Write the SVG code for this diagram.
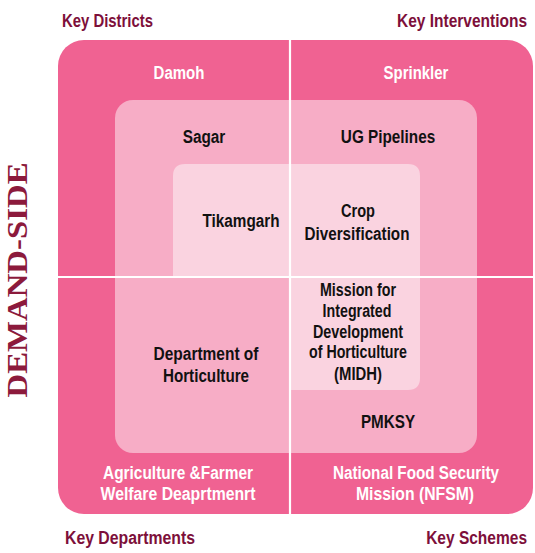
<svg xmlns="http://www.w3.org/2000/svg" width="535" height="553" viewBox="0 0 535 553">
<style>
text{font-family:"Liberation Sans",Arial,sans-serif;font-weight:bold;font-size:19px}
.h{fill:#7d0f3a}
.w{fill:#ffffff;text-anchor:middle}
.b{fill:#111111;text-anchor:middle}
.side{font-family:"Liberation Serif","Times New Roman",serif;font-size:29px;fill:#8c1a3c}
</style>
<g id="outer"><rect x="58" y="40" width="475" height="474" rx="26" fill="#f06292"/></g>
<g id="middle"><rect x="115" y="100" width="362" height="353" rx="18" fill="#f7adc6"/></g>
<g id="inner"><path d="M173 277 V176 Q173 164 185 164 H408 Q420 164 420 176 V378 Q420 390 408 390 H290 V277 Z" fill="#fad3e0"/></g>
<g id="connectors">
<line x1="290" y1="40" x2="290" y2="514" stroke="#ffffff" stroke-width="2.2"/>
<line x1="58" y1="277" x2="533" y2="277" stroke="#ffffff" stroke-width="2.2"/>
</g>
<g id="labels">
<text class="h" transform="translate(62,27) scale(0.82,1)" textLength="111" lengthAdjust="spacingAndGlyphs">Key Districts</text>
<text class="h" transform="translate(527,27) scale(0.82,1)" text-anchor="end" textLength="158.5" lengthAdjust="spacingAndGlyphs">Key Interventions</text>
<text class="h" transform="translate(65,544) scale(0.82,1)" textLength="158.5" lengthAdjust="spacingAndGlyphs">Key Departments</text>
<text class="h" transform="translate(527,544) scale(0.82,1)" text-anchor="end" textLength="123" lengthAdjust="spacingAndGlyphs">Key Schemes</text>
<text class="side" transform="translate(27,280) rotate(-90)" text-anchor="middle" textLength="235" lengthAdjust="spacingAndGlyphs">DEMAND-SIDE</text>
</g>
<g id="n-damoh"><text class="w" transform="translate(179,79) scale(0.82,1)" textLength="62" lengthAdjust="spacingAndGlyphs">Damoh</text></g>
<g id="n-sprinkler"><text class="w" transform="translate(416,79) scale(0.82,1)" textLength="79" lengthAdjust="spacingAndGlyphs">Sprinkler</text></g>
<g id="n-sagar"><text class="b" transform="translate(204,143) scale(0.82,1)" textLength="52" lengthAdjust="spacingAndGlyphs">Sagar</text></g>
<g id="n-ug"><text class="b" transform="translate(388,143) scale(0.82,1)" textLength="115" lengthAdjust="spacingAndGlyphs">UG Pipelines</text></g>
<g id="n-tikamgarh"><text class="b" transform="translate(241,227) scale(0.82,1)" textLength="94" lengthAdjust="spacingAndGlyphs">Tikamgarh</text></g>
<g id="n-crop">
<text class="b" transform="translate(358,217) scale(0.82,1)" textLength="41.5" lengthAdjust="spacingAndGlyphs">Crop</text>
<text class="b" transform="translate(357,240) scale(0.82,1)" textLength="128" lengthAdjust="spacingAndGlyphs">Diversification</text>
</g>
<g id="n-midh">
<text class="b" transform="translate(358,296) scale(0.82,1)" textLength="92.7" lengthAdjust="spacingAndGlyphs">Mission for</text>
<text class="b" transform="translate(357,317) scale(0.82,1)" textLength="84" lengthAdjust="spacingAndGlyphs">Integrated</text>
<text class="b" transform="translate(358,338) scale(0.82,1)" textLength="110" lengthAdjust="spacingAndGlyphs">Development</text>
<text class="b" transform="translate(358,358) scale(0.82,1)" textLength="119.5" lengthAdjust="spacingAndGlyphs">of Horticulture</text>
<text class="b" transform="translate(358,380) scale(0.82,1)" textLength="58.5" lengthAdjust="spacingAndGlyphs">(MIDH)</text>
</g>
<g id="n-doh">
<text class="b" transform="translate(206,360) scale(0.82,1)" textLength="128" lengthAdjust="spacingAndGlyphs">Department of</text>
<text class="b" transform="translate(206,382) scale(0.82,1)" textLength="105" lengthAdjust="spacingAndGlyphs">Horticulture</text>
</g>
<g id="n-pmksy"><text class="b" transform="translate(388,428) scale(0.82,1)" textLength="66" lengthAdjust="spacingAndGlyphs">PMKSY</text></g>
<g id="n-agri">
<text class="w" transform="translate(178,479) scale(0.82,1)" textLength="183" lengthAdjust="spacingAndGlyphs">Agriculture &amp;Farmer</text>
<text class="w" transform="translate(178,500) scale(0.82,1)" textLength="189" lengthAdjust="spacingAndGlyphs">Welfare Deaprtmenrt</text>
</g>
<g id="n-nfsm">
<text class="w" transform="translate(416,479) scale(0.82,1)" textLength="202.5" lengthAdjust="spacingAndGlyphs">National Food Security</text>
<text class="w" transform="translate(415,500) scale(0.82,1)" textLength="144" lengthAdjust="spacingAndGlyphs">Mission (NFSM)</text>
</g>
</svg>
